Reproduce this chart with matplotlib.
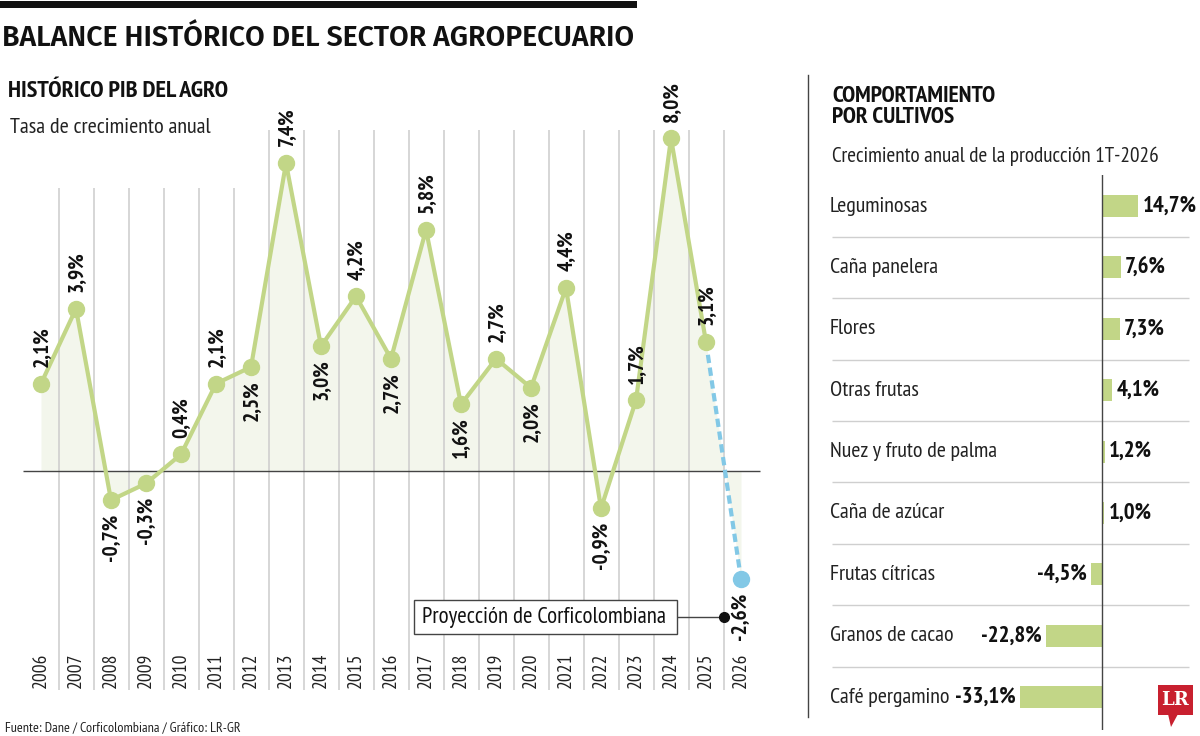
import matplotlib
matplotlib.use("Agg")
import matplotlib.pyplot as plt
from matplotlib import font_manager as fm
from matplotlib.patches import Rectangle, Polygon
from matplotlib.lines import Line2D
import numpy as np

# data
years = list(range(2006, 2027))
pib = [2.1, 3.9, -0.7, -0.3, 0.4, 2.1, 2.5, 7.4, 3.0, 4.2, 2.7,
       5.8, 1.6, 2.7, 2.0, 4.4, -0.9, 1.7, 8.0, 3.1, -2.6]
label_below = [2008, 2009, 2012, 2014, 2016, 2018, 2020, 2022, 2026]

cultivos = ["Leguminosas", "Caña panelera", "Flores", "Otras frutas",
            "Nuez y fruto de palma", "Caña de azúcar", "Frutas cítricas",
            "Granos de cacao", "Café pergamino"]
crecimiento = [14.7, 7.6, 7.3, 4.1, 1.2, 1.0, -4.5, -22.8, -33.1]

# fonts
faces = {(f.name, f.weight) for f in fm.fontManager.ttflist}
names = {n for n, w in faces}


def pick(*cands):
    for c in cands:
        if c in names:
            return c
    return "DejaVu Sans"


NARROW = pick("PT Sans Narrow", "Fira Sans Condensed", "Roboto Condensed",
              "Liberation Sans Narrow", "Open Sans Condensed")

HEAD, HEAD_W = "DejaVu Sans", "bold"
for cand in ["Source Sans 3", "Source Sans Pro", "Fira Sans", "Open Sans"]:
    if (cand, 600) in faces:
        HEAD, HEAD_W = cand, 600
        break
else:
    if "PT Sans" in names:
        HEAD = "PT Sans"

GREEN = "#c2d687"
FILL = "#f3f6ec"
BLUE = "#82c8e6"
GRID = "#cfcfcf"
DARK = "#444444"

W, H = 1200, 736
fig = plt.figure(figsize=(12, 7.36), dpi=100)


def fx(x):
    return x / W


def fy(y):
    return 1 - y / H


def pct(v):
    return ("%.1f" % v).replace(".", ",") + "%"


# header
fig.add_artist(Rectangle((0, fy(8)), fx(637), 7 / H, transform=fig.transFigure,
                         fc="#111111", ec="none"))
title = fig.text(fx(2), fy(46), "BALANCE HISTÓRICO DEL SECTOR AGROPECUARIO",
                 family=HEAD, weight=HEAD_W, fontsize=20.5, color="#111111",
                 va="baseline")
# fit the title to the width of the black bar
fig.canvas.draw()
tw = title.get_window_extent().width
title.set_fontsize(20.5 * 633 / tw)

fig.text(fx(8), fy(97), "HISTÓRICO PIB DEL AGRO", family=NARROW,
         weight="bold", fontsize=17.5, color="#111111", va="baseline")
fig.text(fx(10), fy(133), "Tasa de crecimiento anual", family=NARROW,
         fontsize=16, color="#222222", va="baseline")

# left chart
ax = fig.add_axes([0, 0, 780 / W, 1])
ax.set_xlim(2006 - 41 / 35, 2006 + (780 - 41) / 35)
ax.set_ylim((471 - 736) / 41.6, 471 / 41.6)
ax.axis("off")

yrs = np.array(years)
vals = np.array(pib)
ax.fill_between(yrs, vals, 0, color=FILL, lw=0, zorder=1)

bounds = yrs[:-1] + 0.5
tops = np.where(bounds < 2012, (471 - 188) / 41.6, (471 - 130) / 41.6)
ax.vlines(bounds, (471 - 690) / 41.6, tops, color=GRID, lw=1.2, zorder=2)
ax.hlines(0, 2006 - 18 / 35, 2006 + 719 / 35, color=DARK, lw=1, zorder=3)

ax.plot(yrs[-2:], vals[-2:], color=BLUE, lw=3, ls=(0, (2.0, 1.1)), zorder=4)
ax.plot(yrs[:-1], vals[:-1], color=GREEN, lw=3, zorder=5)
ax.plot(yrs[:-1], vals[:-1], "o", color=GREEN, ms=11.5, zorder=6)
ax.plot(yrs[-1:], vals[-1:], "o", color=BLUE, ms=11.5, zorder=6)

for yr, v in zip(years, pib):
    below = yr in label_below
    ax.annotate(pct(v), (yr, v), xytext=(0, -9.5 if below else 12),
                textcoords="offset points", rotation=90, ha="center",
                va="top" if below else "bottom", family=NARROW,
                weight="bold", fontsize=15.5, color="#111111", zorder=7)
    ax.text(yr, (471 - 688) / 41.6, str(yr), rotation=90, ha="center",
            va="bottom", family=NARROW, fontsize=14, color="#222222")

# projection note
fig.add_artist(Rectangle((fx(414), fy(634)), 263 / W, 34 / H,
                         transform=fig.transFigure, fc="white", ec=DARK,
                         lw=1, zorder=8))
fig.text(fx(544), fy(617), "Proyección de Corficolombiana", family=NARROW,
         fontsize=16.5, color="#111111", ha="center", va="center", zorder=9)
ax.plot([2006 + (677 - 41) / 35, 2025.5], [(471 - 617) / 41.6] * 2,
        color=DARK, lw=1, zorder=8)
ax.plot([2025.5], [(471 - 617) / 41.6], "o", color="#111111", ms=7, zorder=9)

# source
fig.text(fx(5), fy(731), "Fuente: Dane / Corficolombiana / Gráfico: LR-GR",
         family=NARROW, fontsize=10.2, color="#222222", va="baseline")

# separator
fig.add_artist(Line2D([fx(808)] * 2, [fy(75), fy(717)],
                      transform=fig.transFigure, color=DARK, lw=1))

# right panel headers
fig.text(fx(832), fy(123), "COMPORTAMIENTO\nPOR CULTIVOS", family=NARROW,
         weight="bold", fontsize=17, color="#111111", va="baseline",
         linespacing=1.0)
fig.text(fx(832), fy(162), "Crecimiento anual de la producción 1T-2026",
         family=NARROW, fontsize=15.3, color="#222222", va="baseline")

# bar chart
bx = fig.add_axes([800 / W, 1 - 730 / H, 400 / W, (730 - 175) / H])
bx.set_xlim(-302 / 2.47, 98 / 2.47)
rows = np.arange(len(cultivos))
bx.set_ylim((730 - 206) / 61.4, (175 - 206) / 61.4)
bx.axis("off")

bx.barh(rows, crecimiento, height=0.36, color=GREEN, zorder=2)
bx.axvline(0, color=DARK, lw=1, zorder=3)
bx.hlines(rows[:-1] + 0.5, 0.08, 0.9725, transform=bx.get_yaxis_transform(),
          color=GRID, lw=1, zorder=1)

for i, (name, v) in enumerate(zip(cultivos, crecimiento)):
    bx.text(0.075, i, name, transform=bx.get_yaxis_transform(),
            family=NARROW, fontsize=15.8, color="#222222", va="center")
    bx.annotate(pct(v), (v, i), xytext=(3 if v > 0 else -3, 0),
                textcoords="offset points", ha="left" if v > 0 else "right",
                va="center", family=NARROW, weight="bold", fontsize=16.5,
                color="#111111")

# LR logo
RED = "#c8202f"
fig.add_artist(Rectangle((fx(1158), fy(715)), 35 / W, 30 / H,
                         transform=fig.transFigure, fc=RED, ec="none"))
fig.add_artist(Polygon([(fx(1168), fy(714)), (fx(1178), fy(714)),
                        (fx(1171), fy(727))], closed=True,
                       transform=fig.transFigure, fc=RED, ec="none"))
fig.text(fx(1175.5), fy(700), "LR", family="DejaVu Serif", weight="bold",
         fontsize=13, color="white", ha="center", va="center")

fig.savefig("out.png", dpi=100)
